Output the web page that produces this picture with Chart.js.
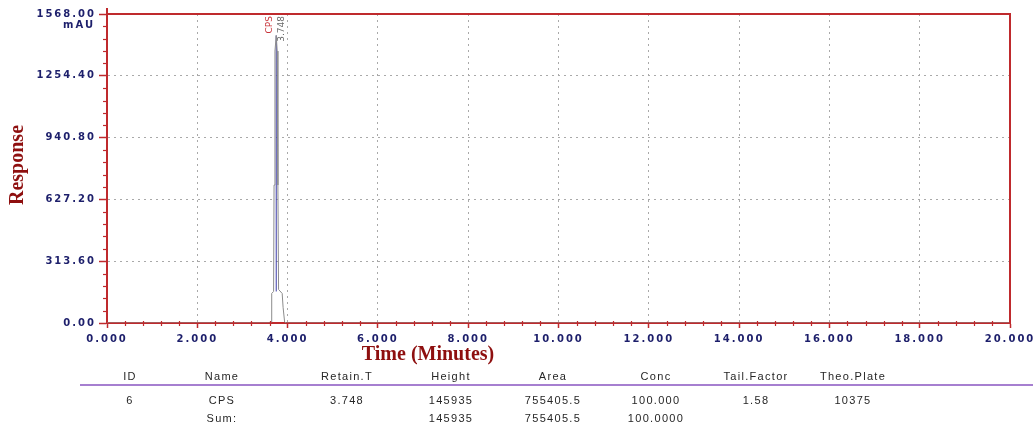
<!DOCTYPE html>
<html>
<head>
<meta charset="utf-8">
<script src="https://cdn.jsdelivr.net/npm/chart.js@4"></script>
<style>
  html, body { margin: 0; padding: 0; background: #fff; }
  #wrap { position: relative; width: 1033px; height: 424px; overflow: hidden; }
  canvas { position: absolute; left: 0; top: 0; }
  #table { position: absolute; left: 0; top: 0; width: 1033px; height: 424px; pointer-events: none;
           font-family: "Liberation Sans", Arial, sans-serif; font-size: 11px; letter-spacing: 1.3px; color: #262626; }
  #table .c { position: absolute; transform: translate(-50%, -50%); white-space: nowrap; }
  #table .rule { position: absolute; left: 80px; right: 0; top: 384px; height: 2px; background: #a67fd0; }
</style>
</head>
<body>
<div id="wrap">
  <canvas id="chart" width="1033" height="424"></canvas>
  <div id="table"></div>
</div>
<script>
// Chromatogram trace (time in minutes, detector response in mAU)
const timeMin  = [0, 3.60, 3.645, 3.648, 3.69, 3.70, 3.72, 3.748, 3.77, 3.785, 3.80, 3.88, 3.90, 3.934, 3.97, 20];
const response = [0, 0,    5,     150,   160,  700,  1380, 1459,  1380, 700,   170,  150,  80,   5,     0,    0];

// Peak apex marker
const peakName = "CPS";
const peakTimeMin = [3.748, 3.748];
const peakMarker  = [160, 1459];

// Axis ticks
const xTicks = [0, 2, 4, 6, 8, 10, 12, 14, 16, 18, 20];
const yTicks = [0, 313.6, 627.2, 940.8, 1254.4, 1568];

// Peak table
const tableHeaders = ["ID", "Name", "Retain.T", "Height", "Area", "Conc", "Tail.Factor", "Theo.Plate"];
const tableRow     = ["6", "CPS", "3.748", "145935", "755405.5", "100.000", "1.58", "10375"];
const tableSum     = ["", "Sum:", "", "145935", "755405.5", "100.0000", "", ""];

const axisRed = "#bf2a2d";
const titleRed = "#8e0f0f";
const tickNavy = "#1d1f6b";
const gridGray = "#a9a9a9";

// column centres of the table
const colX = [130, 222, 347, 451, 553, 656, 756, 853];
const table = document.getElementById("table");
function addRow(cells, y) {
  cells.forEach((t, i) => {
    if (!t) return;
    const d = document.createElement("div");
    d.className = "c";
    d.style.left = colX[i] + "px";
    d.style.top = y + "px";
    d.textContent = t;
    table.appendChild(d);
  });
}
addRow(tableHeaders, 376);
const rule = document.createElement("div");
rule.className = "rule";
table.appendChild(rule);
addRow(tableRow, 400);
addRow(tableSum, 418);

const spacingPlugin = {
  id: "spacing",
  beforeUpdate(chart) { chart.ctx.letterSpacing = "2px"; },
  beforeDraw(chart) { chart.ctx.letterSpacing = "2px"; }
};

const decorPlugin = {
  id: "decor",
  afterDraw(chart) {
    const ctx = chart.ctx;
    const {left, right, top, bottom} = chart.chartArea;
    const xs = chart.scales.x, ys = chart.scales.y;
    ctx.save();
    ctx.letterSpacing = "0px";

    // frame top and right
    ctx.strokeStyle = axisRed;
    ctx.lineWidth = 2;
    ctx.beginPath();
    ctx.moveTo(left, top);
    ctx.lineTo(right, top);
    ctx.lineTo(right, bottom);
    ctx.stroke();
    ctx.beginPath();
    ctx.moveTo(left, top - 6);
    ctx.lineTo(left, top);
    ctx.stroke();

    // minor ticks
    ctx.lineWidth = 1.2;
    for (let i = 0; i < yTicks.length - 1; i++) {
      const step = (yTicks[i + 1] - yTicks[i]) / 5;
      for (let k = 1; k < 5; k++) {
        const py = Math.round(ys.getPixelForValue(yTicks[i] + step * k)) + 0.5;
        ctx.beginPath();
        ctx.moveTo(left - 4, py);
        ctx.lineTo(left, py);
        ctx.stroke();
      }
    }
    for (let i = 0; i < xTicks.length - 1; i++) {
      const step = (xTicks[i + 1] - xTicks[i]) / 5;
      for (let k = 1; k < 5; k++) {
        const px = Math.round(xs.getPixelForValue(xTicks[i] + step * k)) + 0.5;
        ctx.beginPath();
        ctx.moveTo(px, bottom - 2);
        ctx.lineTo(px, bottom + 3);
        ctx.stroke();
      }
    }

    // unit label under the top tick
    ctx.fillStyle = tickNavy;
    ctx.font = "bold 10px 'DejaVu Sans'";
    ctx.letterSpacing = "2px";
    ctx.textAlign = "right";
    ctx.textBaseline = "middle";
    ctx.fillText("mAU", 95, ys.getPixelForValue(1568) + 11);
    ctx.letterSpacing = "0px";

    // peak labels
    const pkX = xs.getPixelForValue(peakTimeMin[0]);
    ctx.font = "9px 'DejaVu Sans'";
    ctx.textAlign = "right";
    ctx.textBaseline = "middle";
    ctx.save();
    ctx.translate(pkX - 7, top + 2);
    ctx.rotate(-Math.PI / 2);
    ctx.fillStyle = "#c8343a";
    ctx.fillText(peakName, 0, 0);
    ctx.restore();
    ctx.save();
    ctx.translate(pkX + 5, top + 2);
    ctx.rotate(-Math.PI / 2);
    ctx.fillStyle = "#6a6a6a";
    ctx.fillText(peakTimeMin[0].toFixed(3), 0, 0);
    ctx.restore();

    // axis titles
    ctx.fillStyle = titleRed;
    ctx.font = "bold 20px 'Liberation Serif'";
    ctx.textAlign = "center";
    ctx.textBaseline = "middle";
    ctx.fillText("Time (Minutes)", 428, 355);
    ctx.save();
    ctx.translate(18, 165);
    ctx.rotate(-Math.PI / 2);
    ctx.fillText("Response", 0, 0);
    ctx.restore();

    ctx.restore();
  }
};

new Chart(document.getElementById("chart"), {
  type: "line",
  data: {
    datasets: [
      {
        data: timeMin.map((t, i) => ({x: t, y: response[i]})),
        borderColor: "#8c8c8c",
        borderWidth: 1,
        pointRadius: 0,
        tension: 0
      },
      {
        data: peakTimeMin.map((t, i) => ({x: t, y: peakMarker[i]})),
        borderColor: "#3a3aa8",
        borderWidth: 1,
        pointRadius: 0
      }
    ]
  },
  options: {
    responsive: false,
    devicePixelRatio: 1,
    animation: false,
    events: [],
    layout: { padding: { left: 0, right: 23, top: 14, bottom: 76 } },
    plugins: { legend: { display: false }, tooltip: { enabled: false } },
    scales: {
      x: {
        type: "linear",
        min: 0, max: 20,
        afterBuildTicks: s => { s.ticks = xTicks.map(v => ({value: v})); },
        afterFit: s => { s.height = 25; s.paddingLeft = 0; s.paddingRight = 0; },
        ticks: {
          color: tickNavy,
          font: { family: "DejaVu Sans", size: 10, weight: "bold" },
          padding: 5,
          maxRotation: 0,
          autoSkip: false,
          callback: v => Number(v).toFixed(3)
        },
        grid: {
          color: ctx => (ctx.tick && (ctx.tick.value === 0 || ctx.tick.value === 20)) ? "rgba(0,0,0,0)" : gridGray,
          lineWidth: 1,
          tickColor: axisRed,
          tickLength: 5,
          tickWidth: 1.5
        },
        border: { color: axisRed, width: 2, dash: [2, 4] }
      },
      y: {
        type: "linear",
        min: 0, max: 1568,
        afterBuildTicks: s => { s.ticks = yTicks.map(v => ({value: v})); },
        afterFit: s => { s.width = 107; s.paddingTop = 0; s.paddingBottom = 0; },
        ticks: {
          color: tickNavy,
          font: { family: "DejaVu Sans", size: 10, weight: "bold" },
          padding: 3,
          autoSkip: false,
          callback: v => Number(v).toFixed(2)
        },
        grid: {
          color: ctx => (ctx.tick && (ctx.tick.value === 0 || ctx.tick.value === 1568)) ? "rgba(0,0,0,0)" : gridGray,
          lineWidth: 1,
          tickColor: axisRed,
          tickLength: 8,
          tickWidth: 1.5
        },
        border: { color: axisRed, width: 2, dash: [2, 4] }
      }
    }
  },
  plugins: [spacingPlugin, decorPlugin]
});
</script>
</body>
</html>
